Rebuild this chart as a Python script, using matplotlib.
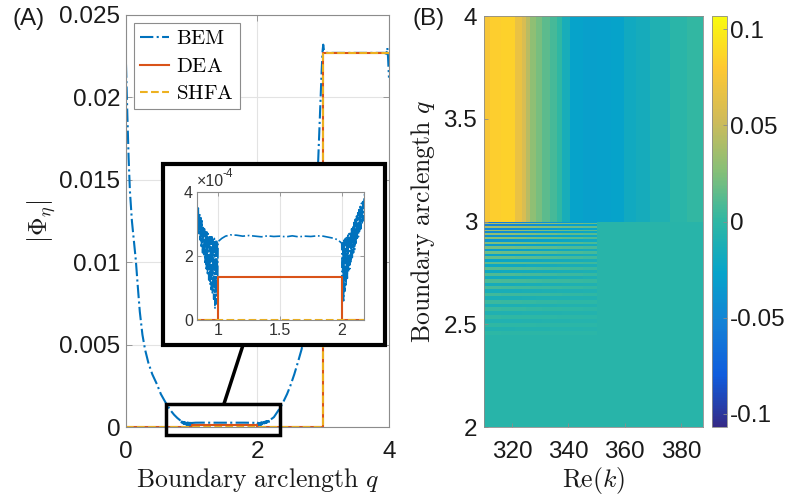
import numpy as np
import matplotlib
matplotlib.use("Agg")
import matplotlib.pyplot as plt
from matplotlib.colors import LinearSegmentedColormap
from matplotlib.patches import Rectangle, ConnectionPatch

plt.rcParams['font.family'] = ['Liberation Sans', 'DejaVu Sans']
plt.rcParams['mathtext.fontset'] = 'cm'
plt.rcParams['axes.unicode_minus'] = False

# ---- panel (A) data : |Phi_eta| along the boundary ----
bem_q_decay = [0.00, 0.02, 0.04, 0.06, 0.09, 0.12, 0.15, 0.18, 0.21, 0.25, 0.29,
               0.34, 0.40, 0.47, 0.53, 0.60, 0.67, 0.73, 0.78, 0.82]
bem_v_decay = [0.0220, 0.0190, 0.0163, 0.0143, 0.0125, 0.0113, 0.0101, 0.0085,
               0.0070, 0.0056, 0.0047, 0.0039, 0.0032, 0.0026, 0.0020, 0.0015,
               0.00105, 0.00075, 0.00055, 0.00042]

bem_q_osc1 = [0.830, 0.835, 0.840, 0.845, 0.850, 0.855, 0.860, 0.865, 0.870, 0.875,
              0.880, 0.885, 0.890, 0.895, 0.900, 0.905, 0.910, 0.915, 0.920, 0.925,
              0.930, 0.935, 0.940, 0.945, 0.950, 0.955, 0.960, 0.965, 0.970, 0.975,
              0.980, 0.985, 0.990, 0.995]
bem_v_osc1 = [3.65, 2.90, 3.50, 2.70, 3.35, 2.50, 3.20, 2.30, 3.10, 2.10,
              2.95, 2.00, 2.85, 1.80, 2.80, 1.60, 2.75, 1.45, 2.70, 1.25,
              2.65, 1.10, 2.60, 0.95, 2.60, 0.80, 2.55, 0.65, 2.55, 0.35,
              2.50, 0.50, 2.50, 0.80]  # x 1e-4

bem_q_flat = [1.00, 1.03, 1.06, 1.10, 1.15, 1.20, 1.25, 1.30, 1.35, 1.40, 1.45, 1.50,
              1.55, 1.60, 1.65, 1.70, 1.75, 1.80, 1.85, 1.90, 1.94, 1.97, 2.00]
bem_v_flat = [2.45, 2.55, 2.62, 2.66, 2.65, 2.62, 2.64, 2.62, 2.60, 2.63, 2.61, 2.62,
              2.60, 2.63, 2.60, 2.62, 2.61, 2.63, 2.62, 2.58, 2.55, 2.50, 2.40]  # x 1e-4

bem_q_osc2 = [2.005, 2.010, 2.015, 2.020, 2.025, 2.030, 2.035, 2.040, 2.045, 2.050,
              2.055, 2.060, 2.065, 2.070, 2.075, 2.080, 2.085, 2.090, 2.095, 2.100,
              2.105, 2.110, 2.115, 2.120, 2.125, 2.130, 2.135, 2.140, 2.145, 2.150,
              2.155, 2.160, 2.165, 2.170, 2.175, 2.180]
bem_v_osc2 = [0.90, 2.45, 0.60, 2.50, 0.90, 2.55, 1.10, 2.60, 1.30, 2.65,
              1.50, 2.70, 1.60, 2.75, 1.80, 2.85, 1.95, 2.95, 2.10, 3.05,
              2.20, 3.15, 2.35, 3.25, 2.50, 3.35, 2.60, 3.45, 2.75, 3.55,
              2.85, 3.65, 3.00, 3.70, 3.10, 3.75]  # x 1e-4

bem_q_rise = [2.20, 2.25, 2.30, 2.35, 2.39, 2.45, 2.50, 2.56, 2.62, 2.67, 2.72, 2.78,
              2.83, 2.88, 2.92, 2.95, 2.975, 2.99, 3.00, 3.01, 3.03, 3.06, 3.50, 3.93,
              3.96, 3.975, 3.985, 3.995, 4.00]
bem_v_rise = [0.00045, 0.0006, 0.0009, 0.0012, 0.0015, 0.0020, 0.0025, 0.0032, 0.0040,
              0.0047, 0.0056, 0.0072, 0.0092, 0.0122, 0.0158, 0.0190, 0.0215, 0.0228,
              0.0232, 0.0229, 0.02275, 0.0227, 0.0227, 0.0227, 0.02265, 0.0230, 0.0225,
              0.0216, 0.0212]

dea_q = [0.0, 1.0, 1.0, 2.0, 2.0, 2.99, 2.99, 4.0]
dea_v = [0.0, 0.0, 1.33e-4, 1.33e-4, 0.0, 0.0, 0.0227, 0.0227]
shfa_q = [0.0, 2.99, 2.99, 4.0]
shfa_v = [0.0, 0.0, 0.0227, 0.0227]

# ---- panel (B) data : map over Re(k) and q ----
k_edges = [310, 312, 316, 321, 323.6, 324.8, 326.5, 328.3, 330.7, 333.6, 336, 337.8,
           340.7, 345, 350, 355, 359.6, 364, 369, 376, 382, 387.8]
top_vals = [0.076, 0.083, 0.085, 0.068, 0.058, 0.045, 0.030, 0.022, 0.014, 0.007, 0.0,
            -0.015, -0.027, -0.030, -0.029, -0.027, -0.020, -0.016, -0.010, -0.003, 0.001]
stripe_weight = [1.0, 0.97, 0.92, 0.88, 0.85, 0.82, 0.78, 0.74, 0.70, 0.66, 0.62,
                 0.58, 0.52, 0.45, 0.0, 0.0, 0.0, 0.0, 0.0, 0.0, 0.0]
base_val = -0.004
stripe_edges = [3.000, 2.993, 2.986, 2.978, 2.970, 2.961, 2.952, 2.943, 2.933, 2.923,
                2.913, 2.902, 2.891, 2.880, 2.868, 2.856, 2.844, 2.831, 2.818, 2.805,
                2.791, 2.777, 2.763, 2.748, 2.733, 2.718, 2.702, 2.686, 2.670, 2.653,
                2.636, 2.619, 2.601, 2.583, 2.565, 2.546, 2.527, 2.508, 2.488, 2.468,
                2.448]
stripe_mag = [0.055, 0.050, 0.046, 0.042, 0.038, 0.034, 0.031, 0.028, 0.025, 0.022,
              0.019, 0.017, 0.015, 0.013, 0.011, 0.009, 0.008, 0.006, 0.005, 0.004]

parula_colors = ['#352a87', '#0f5cdd', '#1481d6', '#06a4ca', '#2eb7a4',
                 '#87bf77', '#d1bb59', '#fec832', '#f9fb0e']
parula = LinearSegmentedColormap.from_list('parula', parula_colors)

bem_q = np.concatenate([bem_q_decay, bem_q_osc1, bem_q_flat, bem_q_osc2, bem_q_rise])
bem_v = np.concatenate([bem_v_decay, np.array(bem_v_osc1) * 1e-4, np.array(bem_v_flat) * 1e-4,
                        np.array(bem_v_osc2) * 1e-4, bem_v_rise])

c_bem, c_dea, c_shfa = '#0072BD', '#D95319', '#EDB120'
spine_c = '#8c8c8c'
txt_c = '#1a1a1a'

fig = plt.figure(figsize=(7.85, 4.96), dpi=100)

# ---- (A) ----
axA = fig.add_axes([0.1605, 0.1391, 0.335, 0.8307])
axA.plot(bem_q, bem_v, '-.', color=c_bem, lw=1.5, label=r'$\mathrm{BEM}$')
axA.plot(dea_q, dea_v, '-', color=c_dea, lw=1.5, label=r'$\mathrm{DEA}$')
axA.plot(shfa_q, shfa_v, '--', color=c_shfa, lw=1.5, label=r'$\mathrm{SHFA}$')
axA.set_xlim(0, 4)
axA.set_ylim(0, 0.025)
axA.set_xticks([0, 2, 4])
axA.set_yticks([0, 0.005, 0.01, 0.015, 0.02, 0.025])
axA.set_yticklabels(['0', '0.005', '0.01', '0.015', '0.02', '0.025'])
axA.grid(True, color='#e3e3e3', lw=0.8)
axA.set_axisbelow(True)
axA.tick_params(direction='in', length=4, width=0.6, color=spine_c, labelcolor=txt_c,
                top=True, right=True, labelsize=17.5)
axA.tick_params(axis='x', pad=10)
axA.tick_params(axis='y', pad=4)
for s in axA.spines.values():
    s.set_color(spine_c)
    s.set_linewidth(0.8)
axA.set_xlabel(r'$\mathrm{Boundary\ arclength}\ q$', fontsize=18.5, color=txt_c, va='top')
axA.xaxis.set_label_coords(0.5, -0.095)
axA.set_ylabel(r'$|\Phi_\eta|$', fontsize=18.5, color=txt_c)
axA.yaxis.set_label_coords(-0.26, 0.5)
leg = axA.legend(loc='upper left', bbox_to_anchor=(0.03, 0.98), fontsize=15,
                 handlelength=1.4, handletextpad=0.3, labelspacing=0.4,
                 borderpad=0.3, borderaxespad=0, fancybox=False, framealpha=1)
leg.get_frame().set_edgecolor(spine_c)
leg.get_frame().set_linewidth(0.8)

axA.add_patch(Rectangle((0.61, -0.0005), 1.73, 0.0019, fill=False, ec='k', lw=2.5,
                        clip_on=False, zorder=5))

box = Rectangle((0.2076, 0.3044), 0.2828, 0.365, transform=fig.transFigure,
                fc='white', ec='k', lw=3, zorder=1)
fig.add_artist(box)
con = ConnectionPatch(xyA=(1.49, 0.0014), coordsA=axA.transData,
                      xyB=(0.3096, 0.3044), coordsB=fig.transFigure,
                      color='k', lw=2.5, zorder=1)
fig.add_artist(con)

axI = fig.add_axes([0.2510, 0.3548, 0.2127, 0.2581])
axI.set_zorder(2)
axI.plot(bem_q, bem_v, '-.', color=c_bem, lw=1.2)
axI.plot(dea_q, dea_v, '-', color=c_dea, lw=1.5)
axI.plot(shfa_q, shfa_v, '--', color=c_shfa, lw=1.5)
axI.set_xlim(0.83, 2.18)
axI.set_ylim(0, 4e-4)
axI.set_xticks([1, 1.5, 2])
axI.set_xticklabels(['1', '1.5', '2'])
axI.set_yticks([0, 2e-4, 4e-4])
axI.set_yticklabels(['0', '2', '4'])
axI.grid(True, color='#e3e3e3', lw=0.8)
axI.set_axisbelow(True)
axI.tick_params(direction='in', length=3, width=0.6, color=spine_c, labelcolor='#333333',
                top=True, right=True, labelsize=11.5)
axI.tick_params(axis='x', pad=2)
axI.tick_params(axis='y', pad=3)
for s in axI.spines.values():
    s.set_color(spine_c)
    s.set_linewidth(0.8)
axI.text(0.0, 1.02, u'\u00d710', transform=axI.transAxes, fontsize=11.5,
         color='#333333', ha='left', va='bottom')
axI.text(0.155, 1.09, '-4', transform=axI.transAxes, fontsize=8.5,
         color='#333333', ha='left', va='bottom')

# ---- (B) ----
q_edges = [2.0] + stripe_edges[::-1] + [4.0]
rows = [[base_val] * len(top_vals)]
bands = []
for m in stripe_mag:
    bands.append([base_val - m * w for w in stripe_weight])
    bands.append([base_val + 0.85 * m * w for w in stripe_weight])
rows += bands[::-1]
rows.append(top_vals)
Z = np.array(rows)

axB = fig.add_axes([0.6166, 0.1391, 0.2790, 0.8286])
mesh = axB.pcolormesh(k_edges, q_edges, Z, cmap=parula, vmin=-0.107, vmax=0.107,
                      shading='flat')
axB.set_xlim(310, 387.8)
axB.set_ylim(2, 4)
axB.set_xticks([320, 340, 360, 380])
axB.set_yticks([2, 2.5, 3, 3.5, 4])
axB.set_yticklabels(['2', '2.5', '3', '3.5', '4'])
axB.tick_params(direction='in', length=3, width=0.6, color=spine_c, labelcolor=txt_c,
                labelsize=17.5)
axB.tick_params(axis='x', pad=10)
axB.tick_params(axis='y', pad=5)
for s in axB.spines.values():
    s.set_color(spine_c)
    s.set_linewidth(0.6)
axB.set_xlabel(r'$\mathrm{Re}(k)$', fontsize=18.5, color=txt_c, va='top')
axB.xaxis.set_label_coords(0.5, -0.0925)
axB.set_ylabel(r'$\mathrm{Boundary\ arclength}\ q$', fontsize=18.5, color=txt_c)
axB.yaxis.set_label_coords(-0.215, 0.5)

cax = fig.add_axes([0.907, 0.1391, 0.0191, 0.8286])
cb = fig.colorbar(mesh, cax=cax)
cb.set_ticks([-0.1, -0.05, 0, 0.05, 0.1])
cb.set_ticklabels(['-0.1', '-0.05', '0', '0.05', '0.1'])
cb.ax.tick_params(direction='in', length=3, width=0.6, color=spine_c,
                  labelcolor=txt_c, labelsize=17.5, pad=2)
cb.outline.set_edgecolor(spine_c)
cb.outline.set_linewidth(0.6)

fig.text(12 / 785, 1 - 8 / 496, '(A)', fontsize=17.5, ha='left', va='top', color=txt_c)
fig.text(413 / 785, 1 - 8 / 496, '(B)', fontsize=17.5, ha='left', va='top', color=txt_c)

fig.savefig('out.png', dpi=100)
